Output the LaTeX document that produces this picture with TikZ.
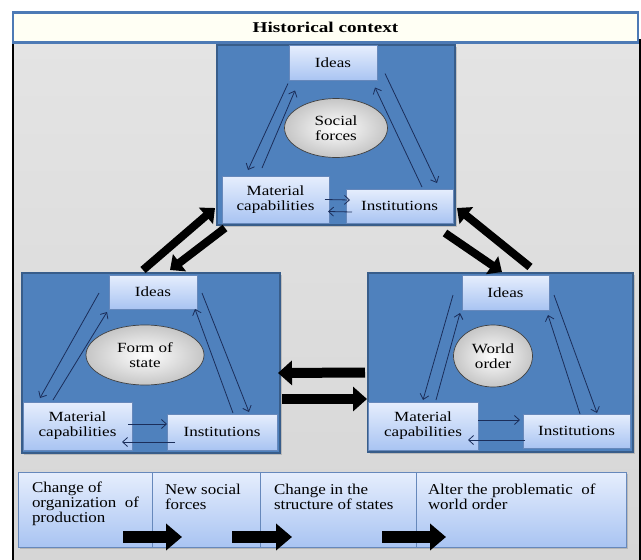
\documentclass[tikz,border=0pt]{standalone}
\usepackage{fontspec}
\setmainfont{Liberation Serif}
\newfontfamily\boxfont[FakeStretch=1.22]{Liberation Serif}
\newfontfamily\stagefont[FakeStretch=1.13]{Liberation Serif}
\newfontfamily\titlefont[FakeStretch=1.28]{Liberation Serif}
\usetikzlibrary{arrows.meta,shapes.geometric,shadows}

\definecolor{panelblue}{HTML}{4F81BD}
\definecolor{paneledge}{HTML}{385D8A}
\definecolor{boxtop}{HTML}{E6EEFD}
\definecolor{boxbot}{HTML}{A9C4F2}
\definecolor{boxedge}{HTML}{6688BB}
\definecolor{linknavy}{HTML}{1B2E5A}
\definecolor{frametop}{HTML}{E4E4E4}
\definecolor{framebot}{HTML}{D6D6D6}
\definecolor{titlefill}{HTML}{FFFFF4}
\definecolor{titleedge}{HTML}{4D7AB5}

\begin{document}
\begin{tikzpicture}[x=1pt,y=-1pt,
  every node/.style={inner sep=0pt, outer sep=0pt},
  sz/.style 2 args={minimum width=#1, minimum height=#2},
  panel/.style={rectangle, draw=paneledge, line width=1.6pt, fill=panelblue,
    drop shadow={shadow xshift=2pt, shadow yshift=-2pt, opacity=0.35}},
  item/.style={rectangle, draw=boxedge, line width=0.8pt, top color=boxtop,
    bottom color=boxbot, align=center, font=\boxfont\fontsize{14}{15}\selectfont},
  core/.style={ellipse, draw=gray!50!black, line width=0.7pt, inner color=white,
    outer color=gray!45, align=center, font=\boxfont\fontsize{14}{15}\selectfont},
  link/.style={draw=linknavy, line width=0.8pt, -{Straight Barb[length=5pt,width=9pt]}},
  bigarrow/.style={draw=black, line width=8pt, -{Triangle[length=12pt,width=21pt]}},
  stage/.style={rectangle, draw=boxedge, line width=0.8pt, top color=boxtop,
    bottom color=boxbot, drop shadow={shadow xshift=2pt, shadow yshift=-2pt, opacity=0.35}},
  stagetext/.style={anchor=north west, align=left, font=\stagefont\fontsize{15}{15}\selectfont}
]
\useasboundingbox (0,0) rectangle (641,560);

% grey frame and title bar
\node[sz={627pt}{522pt}, anchor=north west, draw=black, line width=1.2pt,
  top color=frametop, bottom color=framebot] (frame) at (13,40) {};
\node[sz={625pt}{30pt}, fill=titlefill, draw=titleedge, line width=2.5pt,
  font=\titlefont\bfseries\fontsize{15}{17}\selectfont] (title) at (325.5,27.5) {Historical context};

% ---- social forces panel ----
\node[panel, sz={238pt}{180pt}] (panT) at (336,135) {};
\node[item, sz={88pt}{35pt}] (ideasT) at (333,63) {Ideas};
\node[core, sz={103pt}{59pt}] (coreT) at (336,128) {Social\\forces};
\node[item, sz={107pt}{47pt}] (matT) at (275.5,199.5) {Material\\capabilities};
\node[item, sz={107pt}{34pt}] (instT) at (399.5,206) {Institutions};

\draw[link] ([shift={(-1,3)}]ideasT.south west) -- ([shift={(26,-6)}]matT.north west);
\draw[link] ([shift={(40,-8)}]matT.north west) -- ([shift={(6,10)}]ideasT.south west);
\draw[link] ([shift={(8,-7)}]ideasT.south east) -- ([shift={(-16,-6)}]instT.north east);
\draw[link] ([shift={(-31,-2)}]instT.north east) -- ([shift={(-2,7)}]ideasT.south east);
\draw[link] ([shift={(-4,0)}]matT.east) -- ([shift={(4,-6)}]instT.west);
\draw[link] ([shift={(6,6)}]instT.west) -- ([shift={(-1,12)}]matT.east);

% ---- form of state panel ----
\node[panel, sz={258pt}{180pt}] (panL) at (151,363) {};
\node[item, sz={88pt}{34pt}] (ideasL) at (153,292) {Ideas};
\node[core, sz={118pt}{60pt}] (coreL) at (145,355) {Form of\\state};
\node[item, sz={109pt}{48pt}] (matL) at (77.5,426) {Material\\capabilities};
\node[item, sz={110pt}{36pt}] (instL) at (222,432) {Institutions};

\draw[link] ([shift={(-10,-16)}]ideasL.south west) -- ([shift={(17,-4)}]matL.north west);
\draw[link] ([shift={(30,-2)}]matL.north west) -- ([shift={(-2,3)}]ideasL.south west);
\draw[link] ([shift={(5,-16)}]ideasL.south east) -- ([shift={(-28,-2)}]instL.north east);
\draw[link] ([shift={(-44,-1)}]instL.north east) -- ([shift={(-2,0)}]ideasL.south east);
\draw[link] ([shift={(-4,-2)}]matL.east) -- ([shift={(0,-8)}]instL.west);
\draw[link] ([shift={(8,10)}]instL.west) -- ([shift={(-10,16)}]matL.east);

% ---- world order panel ----
\node[panel, sz={265pt}{179pt}] (panR) at (500.5,362.5) {};
\node[item, sz={87pt}{35pt}] (ideasR) at (505.5,292.5) {Ideas};
\node[core, sz={79pt}{62pt}] (coreR) at (493,356) {World\\order};
\node[item, sz={110pt}{48pt}] (matR) at (423,426) {Material\\capabilities};
\node[item, sz={107pt}{34pt}] (instR) at (576.5,431) {Institutions};

\draw[link] ([shift={(-9,-15)}]ideasR.south west) -- ([shift={(55,-2)}]matR.north west);
\draw[link] ([shift={(68,-2)}]matR.north west) -- ([shift={(-2,3)}]ideasR.south west);
\draw[link] ([shift={(5,-15)}]ideasR.south east) -- ([shift={(-33,-1)}]instR.north east);
\draw[link] ([shift={(-50,0)}]instR.north east) -- ([shift={(-1,5)}]ideasR.south east);
\draw[link] ([shift={(0,-6)}]matR.east) -- ([shift={(-3,-11)}]instR.west);
\draw[link] ([shift={(2,9)}]instR.west) -- ([shift={(-10,14)}]matR.east);

% ---- heavy arrows between the panels ----
\draw[bigarrow] ([shift={(121,-3)}]panL.north west) -- ([shift={(-7,-15)}]matT.south west);
\draw[bigarrow] ([shift={(3,5)}]matT.south west) -- ([shift={(148,-3)}]panL.north west);
\draw[bigarrow] ([shift={(162,-6)}]panR.north west) -- ([shift={(4,-15)}]instT.south east);
\draw[bigarrow] ([shift={(-8,10)}]instT.south east) -- ([shift={(134,-1)}]panR.north west);
\draw[bigarrow, line width=10pt, -{Triangle[length=14pt,width=24pt]}]
  ([shift={(-3,10)}]panR.west) -- ([shift={(-2,10)}]panL.east);
\draw[bigarrow, line width=10pt, -{Triangle[length=14pt,width=24pt]}]
  ([shift={(2,36)}]panL.east) -- ([shift={(-1,36.5)}]panR.west);

% ---- sequence of change ----
\node[stage, sz={134pt}{75pt}] (s1) at (85,509.5) {};
\node[stage, sz={108pt}{75pt}] (s2) at (206,509.5) {};
\node[stage, sz={156pt}{75pt}] (s3) at (338,509.5) {};
\node[stage, sz={210pt}{75pt}] (s4) at (521,509.5) {};

\node[stagetext] (t1) at ([shift={(14,10)}]s1.north west) {Change of\\organization~~of\\production};
\node[stagetext] (t2) at ([shift={(13,12)}]s2.north west) {New social\\forces};
\node[stagetext] (t3) at ([shift={(14,12)}]s3.north west) {Change in the\\structure of states};
\node[stagetext] (t4) at ([shift={(12,12)}]s4.north west) {Alter the problematic~~of\\world order};

\draw[bigarrow, line width=12pt, -{Triangle[length=16pt,width=26pt]}]
  ([shift={(-29,-10)}]s1.south east) -- ([shift={(30,-10)}]s2.south west);
\draw[bigarrow, line width=12pt, -{Triangle[length=16pt,width=26pt]}]
  ([shift={(-28,-10)}]s2.south east) -- ([shift={(32,-10)}]s3.south west);
\draw[bigarrow, line width=12pt, -{Triangle[length=16pt,width=26pt]}]
  ([shift={(-34,-10)}]s3.south east) -- ([shift={(30,-10)}]s4.south west);
\end{tikzpicture}
\end{document}
